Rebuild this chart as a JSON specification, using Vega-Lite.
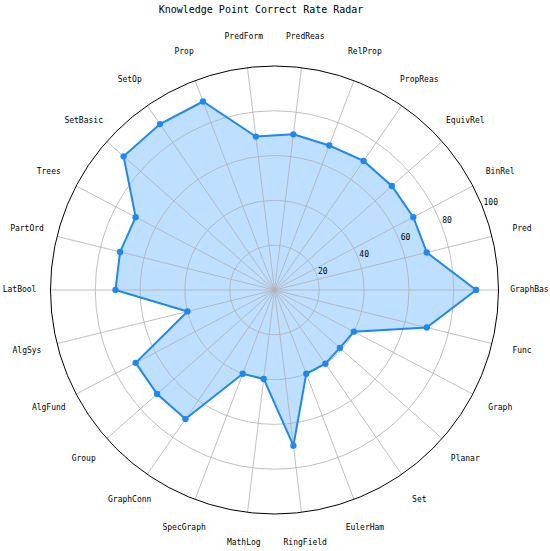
{
  "$schema": "https://vega.github.io/schema/vega-lite/v6.json",
  "width": 550,
  "height": 531,
  "autosize": "none",
  "padding": {"left": 0, "right": 0, "top": 20, "bottom": 0},
  "background": "white",
  "title": {"text": "Knowledge Point Correct Rate Radar", "font": "DejaVu Sans Mono", "fontSize": 10, "fontWeight": "normal", "anchor": "middle", "dx": -14, "offset": 5, "color": "black"},
  "config": {"view": {"stroke": null}},
  "datasets": {
    "scores": [
      {"i": 0, "cat": "GraphBas", "v": 90},
      {"i": 1, "cat": "Pred", "v": 70},
      {"i": 2, "cat": "BinRel", "v": 70},
      {"i": 3, "cat": "EquivRel", "v": 70},
      {"i": 4, "cat": "PropReas", "v": 70},
      {"i": 5, "cat": "RelProp", "v": 69},
      {"i": 6, "cat": "PredReas", "v": 70},
      {"i": 7, "cat": "PredForm", "v": 69},
      {"i": 8, "cat": "Prop", "v": 90},
      {"i": 9, "cat": "SetOp", "v": 90},
      {"i": 10, "cat": "SetBasic", "v": 90},
      {"i": 11, "cat": "Trees", "v": 70},
      {"i": 12, "cat": "PartOrd", "v": 71},
      {"i": 13, "cat": "LatBool", "v": 71},
      {"i": 14, "cat": "AlgSys", "v": 40},
      {"i": 15, "cat": "AlgFund", "v": 70},
      {"i": 16, "cat": "Group", "v": 70},
      {"i": 17, "cat": "GraphConn", "v": 70},
      {"i": 18, "cat": "SpecGraph", "v": 40},
      {"i": 19, "cat": "MathLog", "v": 40},
      {"i": 20, "cat": "RingField", "v": 70},
      {"i": 21, "cat": "EulerHam", "v": 40},
      {"i": 22, "cat": "Set", "v": 40},
      {"i": 23, "cat": "Planar", "v": 39},
      {"i": 24, "cat": "Graph", "v": 40},
      {"i": 25, "cat": "Func", "v": 70}
    ],
    "rings": [{"r": 20, "c": 0}, {"r": 40, "c": 0}, {"r": 60, "c": 0}, {"r": 80, "c": 0}],
    "outer": [{"r": 100, "c": 0}],
    "ticks": [{"t": 20}, {"t": 40}, {"t": 60}, {"t": 80}, {"t": 100}]
  },
  "layer": [
    {
      "data": {"name": "scores"},
      "transform": [
        {"calculate": "datum.i * 2 * PI / 26", "as": "ang"},
        {"calculate": "datum.v * cos(datum.ang)", "as": "px"},
        {"calculate": "datum.v * sin(datum.ang)", "as": "py"}
      ],
      "mark": {"type": "line", "interpolate": "linear-closed", "stroke": null, "strokeOpacity": 0, "fill": "#1E90FF", "fillOpacity": 0.29},
      "encoding": {
        "x": {"field": "px", "type": "quantitative", "scale": {"domain": [-122.54, 122.99], "nice": false, "zero": false}, "axis": null},
        "y": {"field": "py", "type": "quantitative", "scale": {"domain": [-116.52, 120.54], "nice": false, "zero": false}, "axis": null},
        "order": {"field": "i", "type": "quantitative"}
      }
    },
    {
      "data": {"name": "scores"},
      "transform": [
        {"calculate": "datum.i * 2 * PI / 26", "as": "ang"},
        {"calculate": "0", "as": "o"},
        {"calculate": "100 * cos(datum.ang)", "as": "ex"},
        {"calculate": "100 * sin(datum.ang)", "as": "ey"}
      ],
      "mark": {"type": "rule", "color": "#b0b0b0", "strokeWidth": 0.8},
      "encoding": {
        "x": {"field": "o", "type": "quantitative", "scale": {"domain": [-122.54, 122.99], "nice": false, "zero": false}, "axis": null},
        "y": {"field": "o", "type": "quantitative", "scale": {"domain": [-116.52, 120.54], "nice": false, "zero": false}, "axis": null},
        "x2": {"field": "ex"},
        "y2": {"field": "ey"}
      }
    },
    {
      "data": {"name": "rings"},
      "mark": {"type": "point", "shape": "circle", "filled": false, "stroke": "#b0b0b0", "strokeWidth": 0.8, "opacity": 1},
      "encoding": {
        "x": {"field": "c", "type": "quantitative", "scale": {"domain": [-122.54, 122.99], "nice": false, "zero": false}, "axis": null},
        "y": {"field": "c", "type": "quantitative", "scale": {"domain": [-116.52, 120.54], "nice": false, "zero": false}, "axis": null},
        "size": {"field": "r", "type": "quantitative", "scale": {"type": "pow", "exponent": 2, "domain": [0, 100], "range": [0, 200704]}, "legend": null}
      }
    },
    {
      "data": {"name": "outer"},
      "mark": {"type": "point", "shape": "circle", "filled": false, "stroke": "black", "strokeWidth": 1, "opacity": 1},
      "encoding": {
        "x": {"field": "c", "type": "quantitative", "scale": {"domain": [-122.54, 122.99], "nice": false, "zero": false}, "axis": null},
        "y": {"field": "c", "type": "quantitative", "scale": {"domain": [-116.52, 120.54], "nice": false, "zero": false}, "axis": null},
        "size": {"field": "r", "type": "quantitative", "scale": {"type": "pow", "exponent": 2, "domain": [0, 100], "range": [0, 200704]}, "legend": null}
      }
    },
    {
      "data": {"name": "scores"},
      "transform": [
        {"calculate": "datum.i * 2 * PI / 26", "as": "ang"},
        {"calculate": "datum.v * cos(datum.ang)", "as": "px"},
        {"calculate": "datum.v * sin(datum.ang)", "as": "py"}
      ],
      "mark": {"type": "line", "interpolate": "linear-closed", "color": "#1E88F0", "strokeWidth": 2},
      "encoding": {
        "x": {"field": "px", "type": "quantitative", "scale": {"domain": [-122.54, 122.99], "nice": false, "zero": false}, "axis": null},
        "y": {"field": "py", "type": "quantitative", "scale": {"domain": [-116.52, 120.54], "nice": false, "zero": false}, "axis": null},
        "order": {"field": "i", "type": "quantitative"}
      }
    },
    {
      "data": {"name": "scores"},
      "transform": [
        {"calculate": "datum.i * 2 * PI / 26", "as": "ang"},
        {"calculate": "datum.v * cos(datum.ang)", "as": "px"},
        {"calculate": "datum.v * sin(datum.ang)", "as": "py"}
      ],
      "mark": {"type": "point", "shape": "circle", "filled": true, "color": "#1E88F0", "size": 40, "opacity": 1},
      "encoding": {
        "x": {"field": "px", "type": "quantitative", "scale": {"domain": [-122.54, 122.99], "nice": false, "zero": false}, "axis": null},
        "y": {"field": "py", "type": "quantitative", "scale": {"domain": [-116.52, 120.54], "nice": false, "zero": false}, "axis": null}
      }
    },
    {
      "data": {"name": "scores"},
      "transform": [
        {"calculate": "datum.i * 2 * PI / 26", "as": "ang"},
        {"calculate": "113.8 * cos(datum.ang)", "as": "lx"},
        {"calculate": "113.8 * sin(datum.ang)", "as": "ly"}
      ],
      "mark": {"type": "text", "font": "DejaVu Sans Mono", "fontSize": 8, "align": "center", "baseline": "middle", "color": "black"},
      "encoding": {
        "x": {"field": "lx", "type": "quantitative", "scale": {"domain": [-122.54, 122.99], "nice": false, "zero": false}, "axis": null},
        "y": {"field": "ly", "type": "quantitative", "scale": {"domain": [-116.52, 120.54], "nice": false, "zero": false}, "axis": null},
        "text": {"field": "cat", "type": "nominal"}
      }
    },
    {
      "data": {"name": "ticks"},
      "transform": [
        {"calculate": "(datum.t + 1) * cos(PI / 8)", "as": "tx"},
        {"calculate": "(datum.t + 1) * sin(PI / 8)", "as": "ty"}
      ],
      "mark": {"type": "text", "font": "DejaVu Sans Mono", "fontSize": 8, "align": "left", "baseline": "middle", "color": "black"},
      "encoding": {
        "x": {"field": "tx", "type": "quantitative", "scale": {"domain": [-122.54, 122.99], "nice": false, "zero": false}, "axis": null},
        "y": {"field": "ty", "type": "quantitative", "scale": {"domain": [-116.52, 120.54], "nice": false, "zero": false}, "axis": null},
        "text": {"field": "t", "type": "quantitative"}
      }
    }
  ]
}
